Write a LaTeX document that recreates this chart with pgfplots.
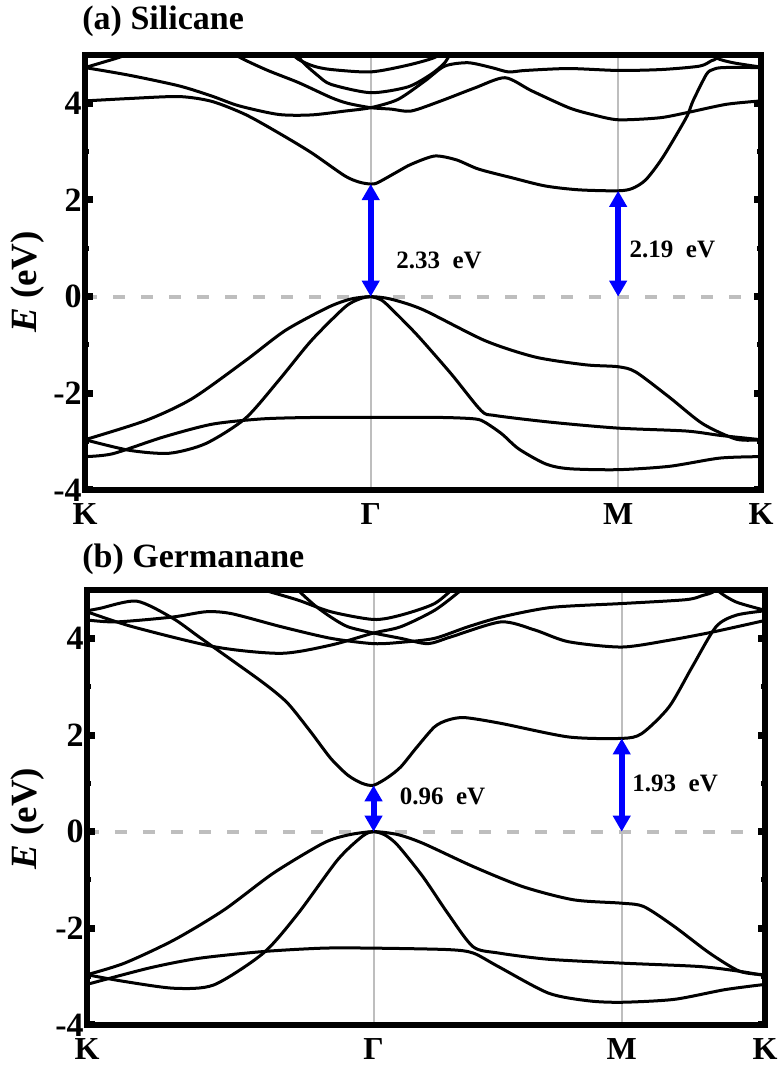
\documentclass[border=0pt]{standalone}
\usepackage{fontspec}
\setmainfont{Liberation Serif}
\usepackage{pgfplots}
\pgfplotsset{compat=1.18}
\usetikzlibrary{arrows.meta}
\definecolor{lgray}{RGB}{190,190,190}
\pgfplotsset{
  bandaxis/.style={
    scale only axis,
    xmin=0, xmax=2.366, ymin=-4, ymax=5,
    axis on top,
    axis line style={line width=2.9pt},
    xtick={0,1,1.866,2.366},
    xticklabels={K,Γ,M,K},
    xtick style={draw=none},
    xticklabel style={font=\fontsize{16}{16}\selectfont\bfseries, anchor=base, yshift=-17.5pt},
    ytick={-4,-2,0,2,4},
    yticklabels={-4,-2,0,2,4},
    minor ytick={-3,-1,1,3},
    ytick pos=both,
    tick align=inside,
    major tick length=3.75pt,
    minor tick length=2pt,
    major tick style={line width=3.5pt, black},
    minor tick style={line width=2.5pt, black},
    yticklabel style={font=\fontsize{17}{17}\selectfont\bfseries, inner sep=0pt, xshift=-1.5pt},
    ylabel={\textit{E} (eV)},
    ylabel style={font=\fontsize{18.5}{18.5}\selectfont\bfseries, anchor=center},
  },
  band/.style={black, line width=1.5pt, smooth, tension=0.45},
  gap/.style={blue, line width=3pt, arrows={Triangle[width=8.5pt,length=8pt]-Triangle[width=8.5pt,length=8pt]}},
  vline/.style={lgray, line width=1pt},
  zline/.style={lgray, line width=2pt, dash pattern=on 6pt off 8pt},
}
\begin{document}
\begin{tikzpicture}
\useasboundingbox (0pt,0pt) rectangle (391.5pt,-532.5pt);
\node[anchor=west, inner sep=0pt, font=\fontsize{17}{17}\selectfont\bfseries] at (41pt,-10.75pt) {(a) Silicane};
\begin{axis}[bandaxis, at={(42.5pt,-27.5pt)}, anchor=north west, width=338pt, height=217.5pt,
  ylabel style={at={(axis description cs:-0.0843,0.478)}}]
\addplot[vline] coordinates {(1,-4) (1,5)};
\addplot[vline] coordinates {(1.866,-4) (1.866,5)};
\addplot[zline] coordinates {(0,0) (2.366,0)};
% valence
\addplot[band] coordinates {(0,-2.96) (0.214,-2.56) (0.375,-2.11) (0.5625,-1.32) (0.701,-0.70) (0.851,-0.22) (0.93,-0.05) (1,0) (1.07,-0.05) (1.183,-0.27) (1.400,-0.91) (1.576,-1.25) (1.752,-1.41) (1.866,-1.45) (1.928,-1.56) (2.045,-2.08) (2.162,-2.63) (2.280,-2.95) (2.366,-2.96)};
\addplot[band] coordinates {(0,-2.96) (0.156,-3.18) (0.295,-3.24) (0.4226,-3.04) (0.561,-2.52) (0.677,-1.74) (0.792,-0.91) (0.909,-0.22) (0.96,-0.05) (1,0) (1.04,-0.08) (1.084,-0.32) (1.165,-0.81) (1.282,-1.60) (1.387,-2.36) (1.436,-2.46) (1.634,-2.60) (1.866,-2.72) (2.104,-2.78) (2.222,-2.87) (2.366,-2.96)};
\addplot[band] coordinates {(0,-3.31) (0.097,-3.25) (0.271,-2.91) (0.444,-2.64) (0.618,-2.53) (0.792,-2.50) (1,-2.50) (1.25,-2.50) (1.365,-2.53) (1.40,-2.60) (1.459,-2.84) (1.518,-3.15) (1.612,-3.46) (1.694,-3.56) (1.866,-3.58) (2.046,-3.51) (2.222,-3.34) (2.366,-3.31)};
% conduction
\addplot[band] coordinates {(0,4.05) (0.156,4.10) (0.33,4.14) (0.444,4.04) (0.561,3.77) (0.677,3.39) (0.792,2.98) (0.909,2.50) (0.96,2.37) (1,2.33) (1.025,2.36) (1.095,2.59) (1.142,2.74) (1.224,2.91) (1.30,2.83) (1.377,2.64) (1.494,2.46) (1.611,2.29) (1.729,2.21) (1.866,2.19) (1.916,2.24) (1.963,2.42) (2.022,2.88) (2.104,3.70) (2.128,4.05) (2.175,4.60) (2.198,4.70) (2.233,4.74) (2.366,4.74)};
\addplot[band] coordinates {(0,4.74) (0.156,4.58) (0.33,4.36) (0.444,4.15) (0.538,3.95) (0.677,3.77) (0.792,3.76) (0.910,3.84) (1,3.91) (1.095,4.08) (1.189,4.46) (1.259,4.77) (1.341,4.84) (1.423,4.74) (1.482,4.65) (1.541,4.68) (1.693,4.72) (1.866,4.68) (2.020,4.70) (2.151,4.77) (2.192,4.88) (2.210,4.93) (2.235,5.15)};
\addplot[band] coordinates {(0.50,5.25) (0.528,5.0) (0.632,4.70) (0.747,4.43) (0.861,4.12) (0.920,4.00) (1,3.91) (1.072,3.88) (1.141,3.84) (1.246,4.05) (1.365,4.32) (1.470,4.53) (1.563,4.26) (1.693,3.91) (1.774,3.77) (1.866,3.66) (2.010,3.70) (2.109,3.81) (2.245,3.98) (2.366,4.05)};
\addplot[band] coordinates {(0.70,5.15) (0.747,4.91) (0.80,4.77) (0.861,4.70) (1,4.65) (1.130,4.79) (1.224,4.95) (1.27,5.15)};
\addplot[band] coordinates {(0.735,5.15) (0.758,4.88) (0.816,4.57) (0.862,4.39) (1,4.22) (1.130,4.34) (1.211,4.60) (1.259,4.84) (1.29,5.15)};
\addplot[band] coordinates {(0,4.74) (0.069,4.86) (0.133,4.98) (0.16,5.1)};
\addplot[band] coordinates {(2.185,5.15) (2.210,4.94) (2.268,4.84) (2.366,4.75)};
% gaps
\addplot[gap] coordinates {(1,0) (1,2.33)};
\addplot[gap] coordinates {(1.866,0) (1.866,2.19)};
\node[anchor=west, inner sep=0pt, font=\fontsize{12.5}{12.5}\selectfont\bfseries] at (axis cs:1.088,0.74) {2.33\ \ eV};
\node[anchor=west, inner sep=0pt, font=\fontsize{12.5}{12.5}\selectfont\bfseries] at (axis cs:1.905,0.97) {2.19\ \ eV};
\end{axis}
\node[anchor=west, inner sep=0pt, font=\fontsize{17}{17}\selectfont\bfseries] at (41pt,-279.5pt) {(b) Germanane};
\begin{axis}[bandaxis, at={(43.5pt,-295pt)}, anchor=north west, width=339pt, height=217.5pt,
  ylabel style={at={(axis description cs:-0.087,0.474)}}]
\addplot[vline] coordinates {(1,-4) (1,5)};
\addplot[vline] coordinates {(1.866,-4) (1.866,5)};
\addplot[zline] coordinates {(0,0) (2.366,0)};
% valence
\addplot[band] coordinates {(0,-2.96) (0.131,-2.72) (0.304,-2.24) (0.478,-1.62) (0.650,-0.86) (0.824,-0.24) (0.910,-0.07) (1,0) (1.084,-0.06) (1.172,-0.24) (1.347,-0.72) (1.522,-1.14) (1.698,-1.41) (1.866,-1.48) (1.943,-1.55) (2.049,-1.96) (2.172,-2.51) (2.278,-2.89) (2.366,-2.96)};
\addplot[band] coordinates {(0,-2.96) (0.131,-3.10) (0.304,-3.24) (0.443,-3.17) (0.616,-2.51) (0.737,-1.69) (0.875,-0.58) (0.962,-0.09) (1,0) (1.04,-0.07) (1.084,-0.28) (1.172,-0.93) (1.259,-1.69) (1.347,-2.38) (1.435,-2.51) (1.610,-2.64) (1.866,-2.72) (2.137,-2.79) (2.278,-2.89) (2.366,-2.98)};
\addplot[band] coordinates {(0,-3.16) (0.218,-2.82) (0.391,-2.62) (0.616,-2.48) (0.824,-2.41) (1,-2.41) (1.259,-2.44) (1.347,-2.51) (1.435,-2.79) (1.610,-3.34) (1.75,-3.50) (1.866,-3.53) (2.049,-3.47) (2.225,-3.27) (2.366,-3.16)};
% conduction
\addplot[band] coordinates {(0,4.57) (0.045,4.62) (0.173,4.77) (0.298,4.42) (0.391,4.03) (0.505,3.55) (0.622,3.05) (0.70,2.66) (0.78,2.07) (0.85,1.52) (0.91,1.17) (0.96,1.0) (1,0.96) (1.049,1.12) (1.095,1.34) (1.15,1.74) (1.213,2.17) (1.26,2.31) (1.318,2.36) (1.445,2.24) (1.680,1.96) (1.866,1.93) (1.936,2.03) (2.031,2.58) (2.112,3.41) (2.195,4.24) (2.266,4.48) (2.366,4.57)};
\addplot[band] coordinates {(0,4.55) (0.159,4.24) (0.450,3.82) (0.678,3.69) (0.851,3.86) (1,4.11) (1.095,4.24) (1.213,4.58) (1.306,5.0) (1.33,5.15)};
\addplot[band] coordinates {(0.71,5.13) (0.737,4.99) (0.795,4.68) (0.851,4.44) (0.910,4.24) (1,4.11) (1.095,4.0) (1.189,3.89) (1.270,4.03) (1.445,4.34) (1.564,4.17) (1.680,3.93) (1.866,3.82) (2.031,3.96) (2.183,4.13) (2.366,4.37)};
\addplot[band] coordinates {(0,4.38) (0.103,4.34) (0.298,4.44) (0.415,4.55) (0.505,4.51) (0.678,4.24) (0.851,4.0) (1,3.89) (1.10,3.92) (1.213,4.0) (1.330,4.24) (1.445,4.44) (1.621,4.64) (1.866,4.72) (2.090,4.80) (2.150,4.89) (2.185,4.96) (2.22,5.15)};
\addplot[band] coordinates {(0.58,5.08) (0.623,4.99) (0.737,4.79) (0.851,4.55) (1,4.39) (1.095,4.48) (1.213,4.72) (1.29,5.1)};
\addplot[band] coordinates {(2.19,5.15) (2.207,4.96) (2.266,4.75) (2.366,4.58)};
% gaps
\addplot[gap] coordinates {(1,0) (1,0.96)};
\addplot[gap] coordinates {(1.866,0) (1.866,1.93)};
\node[anchor=west, inner sep=0pt, font=\fontsize{12.5}{12.5}\selectfont\bfseries] at (axis cs:1.090,0.74) {0.96\ \ eV};
\node[anchor=west, inner sep=0pt, font=\fontsize{12.5}{12.5}\selectfont\bfseries] at (axis cs:1.902,0.99) {1.93\ \ eV};
\end{axis}
\end{tikzpicture}
\end{document}
